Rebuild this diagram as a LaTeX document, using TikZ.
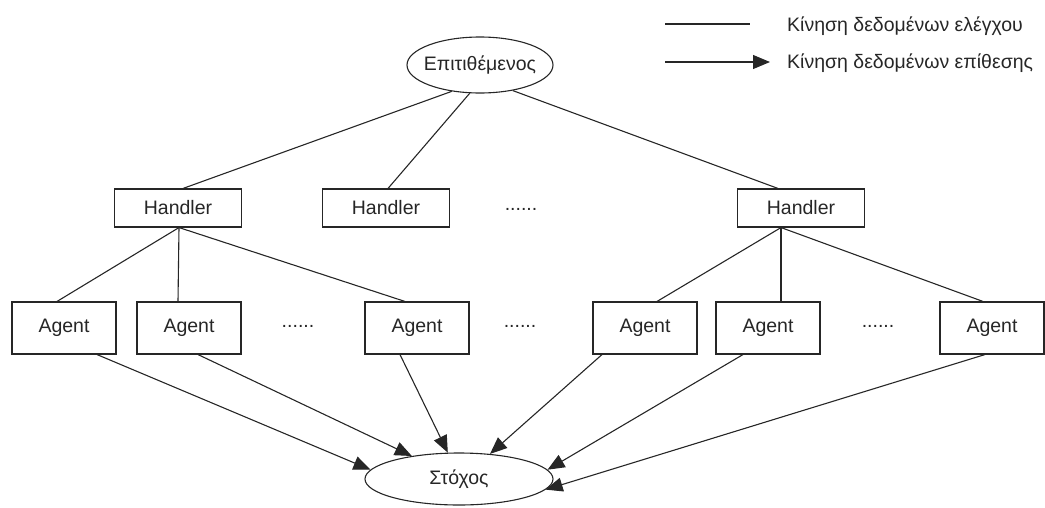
\documentclass[tikz,border=0pt]{standalone}
\usepackage{fontspec}
\setmainfont{Liberation Sans}
\usetikzlibrary{arrows.meta,shapes.geometric}
\begin{document}
\begin{tikzpicture}[x=1pt,y=-1pt,
  txt/.style={font=\fontsize{19.5}{22}\selectfont,text=black!85},
  box/.style={txt,draw=black!85,line width=1.1pt,minimum width=104pt,minimum height=52pt,inner sep=0pt},
  hbox/.style={txt,draw=black!85,line width=1.1pt,minimum width=127pt,minimum height=38pt,inner sep=0pt},
  oval/.style={txt,draw=black!85,line width=1.1pt,ellipse,inner ysep=0pt,inner xsep=-12pt},
  ctl/.style={draw=black!85,line width=1.1pt},
  atk/.style={draw=black!85,line width=1.1pt,-{Triangle[length=17pt,width=14pt]}},
  dots/.style={txt},
  lg/.style={txt,anchor=west,inner sep=0pt}]
\useasboundingbox (0,0) rectangle (1045,507);
\node[oval,minimum width=146pt,minimum height=56pt] (att) at (480,65) {Επιτιθέμενος};
\node[hbox] (h1) at (178,208) {Handler};
\node[hbox] (h2) at (386,208) {Handler};
\node[hbox] (h3) at (801,208) {Handler};
\node[dots] (d0) at (521,209) {......};
\node[box] (a1) at (64,328) {Agent};
\node[box] (a2) at (189,328) {Agent};
\node[box] (a3) at (417,328) {Agent};
\node[box] (a4) at (645,328) {Agent};
\node[box] (a5) at (768,328) {Agent};
\node[box] (a6) at (992,328) {Agent};
\node[dots] (d1) at (298,326) {......};
\node[dots] (d2) at (520,326) {......};
\node[dots] (d3) at (878,326) {......};
\node[oval,minimum width=188pt,minimum height=52pt] (tgt) at (459,479) {Στόχος};
% legend
\coordinate (l1a) at (665,24); \coordinate (l1b) at (750,24);
\coordinate (l2a) at (665,62); \coordinate (l2b) at (770,62);
\draw[ctl] (l1a) -- (l1b);
\draw[atk] (l2a) -- (l2b);
\node[lg] (t1) at (787,26) {Κίνηση δεδομένων ελέγχου};
\node[lg] (t2) at (787,63) {Κίνηση δεδομένων επίθεσης};
% control
\draw[ctl] (att.223) -- ([xshift=5pt]h1.north);
\draw[ctl] (att.250) -- ([xshift=2pt]h2.north);
\draw[ctl] (att.322) -- ([xshift=-23pt]h3.north);
\draw[ctl] ([xshift=1pt]h1.south) -- ([xshift=-7pt]a1.north);
\draw[ctl] ([xshift=1pt]h1.south) -- ([xshift=-11pt]a2.north);
\draw[ctl] ([xshift=1pt]h1.south) -- ([xshift=-12pt]a3.north);
\draw[ctl] ([xshift=-20pt]h3.south) -- ([xshift=12pt]a4.north);
\draw[ctl] ([xshift=-20pt]h3.south) -- ([xshift=13pt]a5.north);
\draw[ctl] ([xshift=-20pt]h3.south) -- ([xshift=-9pt]a6.north);
% attack
\draw[atk] ([xshift=33pt]a1.south) -- (tgt.174);
\draw[atk] ([xshift=9pt]a2.south) -- (tgt.154);
\draw[atk] ([xshift=-17pt]a3.south) -- (tgt.113);
\draw[atk] ([xshift=-43pt]a4.south) -- (tgt.39);
\draw[atk] ([xshift=-25pt]a5.south) -- (tgt.6);
\draw[atk] ([xshift=-7pt]a6.south) -- (tgt.353);
\end{tikzpicture}
\end{document}
